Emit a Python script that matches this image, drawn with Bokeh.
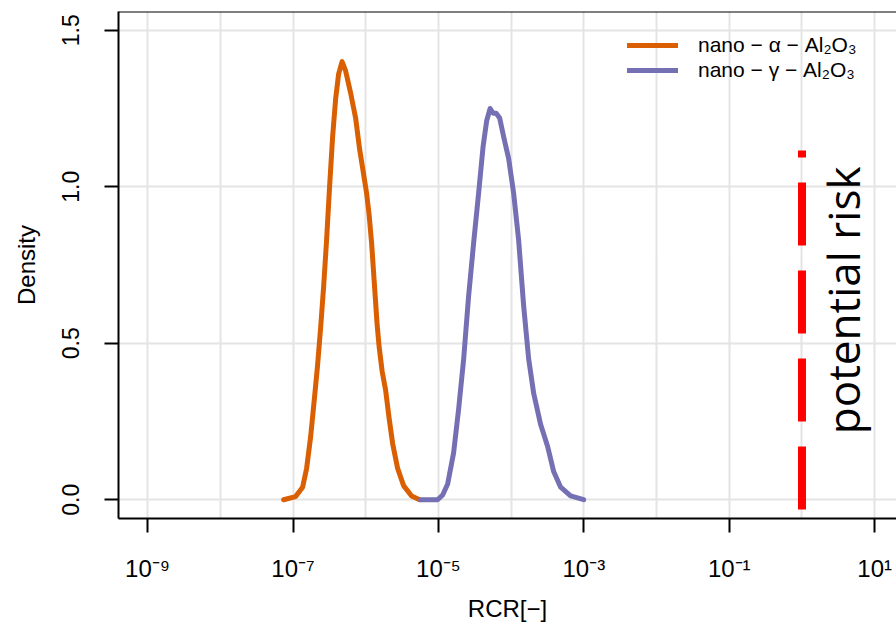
import math
import numpy as np
from bokeh.plotting import figure
from bokeh.models import (Range1d, FixedTicker, CustomJSTickFormatter, PrintfTickFormatter,
                          Span, Legend, LegendItem)
from bokeh.core.properties import value
from bokeh.embed import file_html
from bokeh.resources import INLINE

# ---- data ----
alpha_log10_rcr = [-7.129, -6.964, -6.868, -6.813, -6.758, -6.703, -6.662, -6.620, -6.579,
                   -6.538, -6.497, -6.455, -6.414, -6.373, -6.325, -6.276, -6.208, -6.139,
                   -6.084, -6.029, -5.988, -5.953, -5.919, -5.884, -5.843, -5.816, -5.774,
                   -5.726, -5.678, -5.630, -5.561, -5.479, -5.369, -5.259]
alpha_density = [0.0, 0.01, 0.04, 0.10, 0.20, 0.33, 0.43, 0.55, 0.68,
                 0.83, 1.00, 1.16, 1.28, 1.36, 1.40, 1.37, 1.30, 1.22,
                 1.12, 1.04, 0.98, 0.91, 0.82, 0.70, 0.56, 0.49, 0.41,
                 0.35, 0.26, 0.18, 0.10, 0.045, 0.012, 0.0]

gamma_log10_rcr = [-5.245, -5.011, -4.942, -4.873, -4.791, -4.722, -4.653, -4.585, -4.516,
                   -4.447, -4.385, -4.337, -4.289, -4.248, -4.206, -4.158, -4.103, -4.034,
                   -3.966, -3.897, -3.828, -3.759, -3.690, -3.594, -3.498, -3.415, -3.319,
                   -3.182, -3.003]
gamma_density = [0.0, 0.0, 0.015, 0.05, 0.15, 0.29, 0.45, 0.65, 0.82,
                 0.98, 1.13, 1.21, 1.25, 1.235, 1.235, 1.22, 1.16, 1.09,
                 0.98, 0.83, 0.62, 0.45, 0.34, 0.24, 0.17, 0.09, 0.04,
                 0.012, 0.0]

series_labels = ["nano \u2212 \u03b1 \u2212 Al\u2082O\u2083", "nano \u2212 \u03b3 \u2212 Al\u2082O\u2083"]
series_colors = ["#D95F02", "#7570B3"]

x_tick_exponents = [-9, -7, -5, -3, -1, 1]
x_grid_exponents = [-9, -8, -7, -6, -5, -4, -3, -2, -1, 0, 1]
y_ticks = [0.0, 0.5, 1.0, 1.5]

risk_threshold = 1.0
risk_line_y = [-0.031, 1.116]
risk_label = "potential risk"
risk_label_x = 3.7
risk_label_y = 0.637

FONT = "Liberation Sans"

p = figure(x_axis_type="log",
           x_range=Range1d(10 ** -9.4, 10 ** 1.30),
           y_range=Range1d(-0.06, 1.56),
           frame_width=778, frame_height=507,
           min_border_left=118, min_border_right=0, min_border_top=11, min_border_bottom=10,
           output_backend="svg", toolbar_location=None)
p.outline_line_color = None
p.background_fill_color = "white"
p.border_fill_color = "white"

# grid
p.xgrid.ticker = FixedTicker(ticks=[10.0 ** e for e in x_grid_exponents])
p.ygrid.ticker = FixedTicker(ticks=y_ticks)
for g in (p.xgrid, p.ygrid):
    g.grid_line_color = "#e4e4e4"
    g.grid_line_width = 2

# x axis
xa = p.xaxis[0]
xa.ticker = FixedTicker(ticks=[10.0 ** e for e in x_tick_exponents], minor_ticks=[])
xa.formatter = CustomJSTickFormatter(code="""
const sup = {"-":"\u207b","0":"\u2070","1":"\u00b9","2":"\u00b2","3":"\u00b3","4":"\u2074",
             "5":"\u2075","6":"\u2076","7":"\u2077","8":"\u2078","9":"\u2079"};
const e = Math.round(Math.log10(tick));
return "10" + String(e).split("").map(c => sup[c]).join("");
""")
xa.axis_label = "RCR[\u2212]"

ya = p.yaxis[0]
ya.ticker = FixedTicker(ticks=y_ticks, minor_ticks=[])
ya.formatter = PrintfTickFormatter(format="%.1f")
ya.axis_label = "Density"
ya.major_label_orientation = "parallel"

for ax in (xa, ya):
    ax.axis_line_color = "black"
    ax.axis_line_width = 2
    ax.major_tick_line_color = "black"
    ax.major_tick_line_width = 2
    ax.major_tick_in = 0
    ax.major_tick_out = 14
    ax.minor_tick_in = 0
    ax.minor_tick_out = 0
    ax.major_label_text_font = FONT
    ax.major_label_text_color = "black"
    ax.axis_label_text_font = FONT
    ax.axis_label_text_font_size = "24px"
    ax.axis_label_text_font_style = "normal"
    ax.axis_label_text_color = "black"
xa.major_label_text_font_size = "24px"
ya.major_label_text_font_size = "23px"
xa.major_label_standoff = 22
xa.axis_label_standoff = 10
ya.major_label_standoff = 25
ya.axis_label_standoff = 20

# top border
p.add_layout(Span(location=1.56, dimension="width", line_color="black", line_width=2))

# curves
r_alpha = p.line(10.0 ** np.array(alpha_log10_rcr), alpha_density,
                 line_color=series_colors[0], line_width=5, line_join="round", line_cap="round")
r_gamma = p.line(10.0 ** np.array(gamma_log10_rcr), gamma_density,
                 line_color=series_colors[1], line_width=5, line_join="round", line_cap="round")

# risk threshold
p.line([risk_threshold, risk_threshold], risk_line_y, line_color="#ff0000",
       line_width=8, line_dash="63 25")
p.text(x=[risk_label_x], y=[risk_label_y], text=[risk_label], angle=math.pi / 2,
       text_font=value("Open Sans"), text_font_size="44px", text_color="black",
       text_align="center", text_baseline="middle")

# legend: one entry per legend box so each row can sit exactly where the reference has it
legend_rows = [(series_labels[0], r_alpha, 461), (series_labels[1], r_gamma, 436)]
for label, renderer, bottom in legend_rows:
    lg = Legend(items=[LegendItem(label=label, renderers=[renderer])],
                location=(509, bottom), orientation="vertical",
                glyph_width=51, glyph_height=20, label_standoff=20, spacing=0,
                padding=0, margin=0, border_line_color=None, background_fill_alpha=0,
                label_text_font=FONT, label_text_font_size="21px", label_text_color="black")
    p.add_layout(lg)

open("out.html", "w").write(file_html(p, INLINE))
